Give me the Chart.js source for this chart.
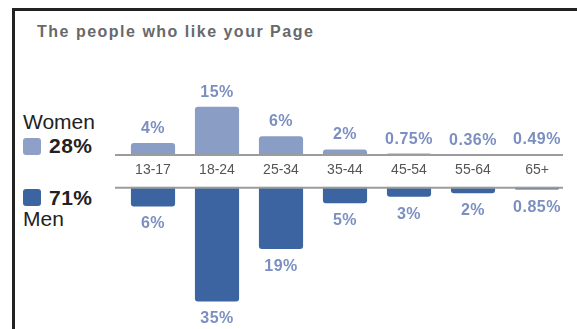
<!DOCTYPE html>
<html>
<head>
<meta charset="utf-8">
<script src="https://cdn.jsdelivr.net/npm/chart.js@4.4.1/dist/chart.umd.min.js"></script>
<style>
  body { margin: 0; width: 577px; height: 329px; overflow: hidden; background: #fff; position: relative;
         font-family: "Liberation Sans", Arial, sans-serif; }
  #frame { position: absolute; left: 12px; top: 8px; width: 640px; height: 400px; border: 3px solid #222; }
  .txt { position: absolute; white-space: nowrap; }
  #title { left: 37px; top: 24px; font-size: 16px; line-height: 16px; font-weight: bold; color: #68696b; letter-spacing: 1.5px; }
  .who { left: 23px; font-size: 21px; line-height: 21px; color: #222; }
  .total { left: 49px; font-size: 21px; line-height: 21px; font-weight: bold; color: #222; letter-spacing: 0.5px; }
  .swatch { position: absolute; left: 23px; width: 18px; height: 17px; border-radius: 3px; }
  #top, #bottom { position: absolute; left: 0; }
  #top { top: 80px; }
  #bottom { top: 154px; }
</style>
</head>
<body>
<div id="frame"></div>
<div id="title" class="txt">The people who like your Page</div>
<div class="txt who" style="top:111px">Women</div>
<div class="swatch" style="top:138px;background:#8ea0c8"></div>
<div id="womenTotal" class="txt total" style="top:135px"></div>
<div class="swatch" style="top:189px;background:#3b64a0"></div>
<div id="menTotal" class="txt total" style="top:187px"></div>
<div class="txt who" style="top:208px">Men</div>

<canvas id="top" width="577" height="76"></canvas>
<canvas id="bottom" width="577" height="175"></canvas>

<script>
const AGE_GROUPS = ['13-17', '18-24', '25-34', '35-44', '45-54', '55-64', '65+'];
const WOMEN_PCT = [4, 15, 6, 2, 0.75, 0.36, 0.49];
const MEN_PCT = [6, 35, 19, 5, 3, 2, 0.85];
const WOMEN_TOTAL = 28;
const MEN_TOTAL = 71;

const FONT = '"Liberation Sans", Arial, sans-serif';

document.getElementById('womenTotal').textContent = WOMEN_TOTAL + '%';
document.getElementById('menTotal').textContent = MEN_TOTAL + '%';

// percentage text above (women) or below (men) each bar
const barLabels = {
  id: 'barLabels',
  afterDatasetsDraw(chart, args, opts) {
    const ctx = chart.ctx;
    const data = chart.data.datasets[0].data;
    ctx.save();
    ctx.font = 'bold 16px ' + FONT;
    ctx.fillStyle = '#7b8fc0';
    ctx.textAlign = 'center';
    ctx.letterSpacing = '0.5px';
    chart.getDatasetMeta(0).data.forEach((bar, i) => {
      const y = opts.below ? bar.y + 22 : bar.y - 10;
      ctx.fillText(data[i] + '%', bar.x, y);
    });
    ctx.restore();
  }
};

// grey rule the bars grow out of
const baseLine = {
  id: 'baseLine',
  afterDatasetsDraw(chart, args, opts) {
    const { ctx, chartArea } = chart;
    const y = opts.atTop ? chartArea.top + 1 : chartArea.bottom - 1;
    ctx.save();
    ctx.strokeStyle = '#9c9c9c';
    ctx.lineWidth = 2;
    ctx.beginPath();
    ctx.moveTo(chartArea.left - 6, y);
    ctx.lineTo(chartArea.right - 6, y);
    ctx.stroke();
    ctx.restore();
  }
};

function barOptions(reverse, yMax, showTicks, plugins) {
  return {
    responsive: false,
    animation: false,
    layout: { padding: { left: 121, right: 8, top: 0, bottom: 0 } },
    plugins: Object.assign({ legend: { display: false }, tooltip: { enabled: false } }, plugins),
    scales: {
      x: {
        display: showTicks,
        position: 'top',
        grid: { display: false, drawTicks: false },
        border: { display: false },
        ticks: { color: '#555', font: { size: 14, family: FONT }, padding: 8, maxRotation: 0 }
      },
      y: { display: false, min: 0, max: yMax, reverse: reverse }
    }
  };
}

new Chart(document.getElementById('top'), {
  type: 'bar',
  data: {
    labels: AGE_GROUPS,
    datasets: [{
      data: WOMEN_PCT,
      backgroundColor: '#8a9dc5',
      borderRadius: 3,
      borderSkipped: 'start',
      barPercentage: 0.69,
      categoryPercentage: 1
    }]
  },
  options: barOptions(false, 23.2, false, { barLabels: { below: false }, baseLine: { atTop: false } }),
  plugins: [barLabels, baseLine]
});

new Chart(document.getElementById('bottom'), {
  type: 'bar',
  data: {
    labels: AGE_GROUPS,
    datasets: [{
      data: MEN_PCT,
      backgroundColor: '#3b64a0',
      borderRadius: 3,
      borderSkipped: 'start',
      barPercentage: 0.69,
      categoryPercentage: 1
    }]
  },
  options: barOptions(true, 43.4, true, { barLabels: { below: true }, baseLine: { atTop: true } }),
  plugins: [barLabels, baseLine]
});
</script>
</body>
</html>
